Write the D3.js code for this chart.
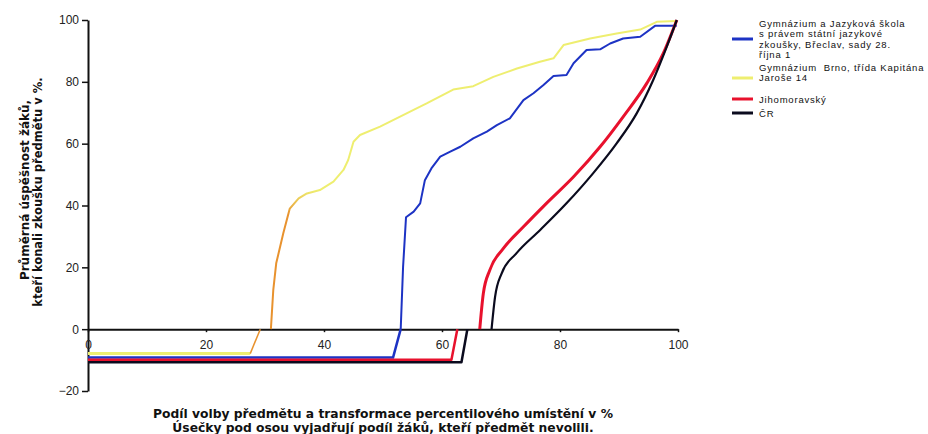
<!DOCTYPE html>
<html>
<head>
<meta charset="utf-8">
<script src="https://cdn.jsdelivr.net/npm/d3@7"></script>
<style>
  body { margin: 0; background: #fff; }
  svg { display: block; }
  .tick text { font-family: "Liberation Sans", Arial, sans-serif; font-size: 12px; fill: #222; }
</style>
</head>
<body>
<svg id="chart" width="928" height="434"></svg>
<script>
// data: [podíl volby / percentil, úspěšnost]
var xTicks = [0, 20, 40, 60, 80, 100],
    yTicks = [-20, 0, 20, 40, 60, 80, 100]

var brno = [[31.0,0],[31.4,12.6],[31.9,21.3],[33.1,31],[34.2,39],[35.7,42.3],[37.1,43.9],[39.3,45],
  [41.6,47.7],[43.3,51.5],[44.1,54.7],[45.0,60.6],[46.1,62.8],[49.5,65.5],[54.0,69.8],[57.4,73],
  [61.9,77.5],[65.3,78.6],[68.7,81.6],[72.7,84.3],[76.6,86.5],[78.9,87.6],[80.6,91.9],[85.1,94],
  [89.6,95.6],[93.6,96.9],[96.4,99.4],[99.8,99.7]]
var breclav = [[53.0,0],[53.4,20],[53.9,36.2],[55.2,38],[56.3,40.7],[57.1,48.2],[58.2,52],[59.7,55.8],
  [61.4,57.4],[63.1,59],[65.3,61.7],[67.6,63.9],[69.3,66],[71.5,68.2],[73.8,74.1],[75.5,76.3],
  [77.2,79],[78.9,81.9],[81.1,82.2],[82.3,86],[84.5,90.3],[86.8,90.5],[88.5,92.4],[90.7,94],
  [93.6,94.6],[96.1,98.1],[99.8,98.1]]
var jihomoravsky = [[66.4,0],[67.0,11.5],[68.1,19.1],[70.4,26.1],[73.8,33.1],[77.7,40.7],[82.3,49.3],
  [86.8,59],[90.7,68.7],[94.7,79.5],[97.5,89.2],[99.8,100]]
var cr = [[68.4,0],[69.0,10.5],[70.1,18],[72.6,24.5],[76.6,32],[81.1,40.7],[85.6,50.4],[89.6,60.1],
  [93.0,69.8],[95.8,80.6],[98.1,91.4],[99.8,100]]

// úsečky pod osou = podíl žáků, kteří předmět nevolili
var belowBrno = [[0,-7.9],[27.5,-7.9],[29.2,0]],
    belowBreclav = [[0,-9.2],[51.7,-9.2],[53.0,0]],
    belowJm = [[0,-9.9],[61.6,-9.9],[62.6,0]],
    belowCr = [[0,-10.7],[63.3,-10.7],[64.3,0]]

var legendNames = [
  ['Gymnázium a Jazyková škola', 's právem státní jazykové', 'zkoušky, Břeclav, sady 28.', 'října 1'],
  ['Gymnázium  Brno, třída Kapitána', 'Jaroše 14'],
  ['Jihomoravský'],
  ['ČR']
]

var cBlue = '#1d33c4', cYellow = '#eeee70', cOrange = '#e8922e', cRed = '#e8112d', cBlack = '#0b0b1e'

var svg = d3.select('#chart')
var x = d3.scaleLinear().domain([0, 100]).range([88, 678]),
    y = d3.scaleLinear().domain([-20, 100]).range([391, 20])

// gradient for the Brno line: orange low, yellow higher up
var grad = svg.append('defs').append('linearGradient')
    .attr('id', 'brnoGrad').attr('gradientUnits', 'userSpaceOnUse')
    .attr('x1', 0).attr('x2', 0).attr('y1', y(0)).attr('y2', y(60))
grad.append('stop').attr('offset', 0).attr('stop-color', cOrange)
grad.append('stop').attr('offset', 0.62).attr('stop-color', cOrange)
grad.append('stop').attr('offset', 0.75).attr('stop-color', cYellow)
grad.append('stop').attr('offset', 1).attr('stop-color', cYellow)

// axes
svg.append('g').attr('transform', 'translate(' + x(0) + ',0)')
    .call(d3.axisLeft(y).tickValues(yTicks).tickSize(6).tickSizeOuter(0).tickPadding(3))
svg.append('g').attr('transform', 'translate(0,' + y(0) + ')')
    .call(d3.axisBottom(x).tickValues(xTicks).tickSize(3).tickSizeOuter(0).tickPadding(8))
svg.selectAll('.domain').attr('stroke', '#111').attr('stroke-width', 2)
svg.selectAll('.tick line').attr('stroke', '#111').attr('stroke-width', 1.5)

var line = d3.line().x(d => x(d[0])).y(d => y(d[1]))
var smooth = d3.line().x(d => x(d[0])).y(d => y(d[1])).curve(d3.curveMonotoneX)

function path(data, gen, color, w){
  svg.append('path').datum(data).attr('d', gen)
    .attr('fill', 'none').attr('stroke', color).attr('stroke-width', w)
    .attr('stroke-linejoin', 'round')
}

// below axis
path(belowBrno.slice(0, 2), line, cYellow, 3)
path(belowBrno.slice(1), line, cOrange, 1.5)
path(belowBreclav, line, cBlue, 2.5)
path(belowJm, line, cRed, 2.5)
path(belowCr, line, cBlack, 2.5)

// above axis
path(brno, line, 'url(#brnoGrad)', 2)
path(breclav, line, cBlue, 2)
path(jihomoravsky, smooth, cRed, 3)
path(cr, smooth, cBlack, 2.2)

// legend
var legendColors = [cBlue, cYellow, cRed, cBlack],
    legendMarkY = [39, 78, 99, 113],
    legendTextY = [26.5, 70.5, 102.5, 116.5]
var lg = svg.append('g').attr('font-family', '"Liberation Sans", Arial, sans-serif')
    .attr('font-size', '9.5px').attr('letter-spacing', '0.8px').attr('fill', '#111')
legendNames.forEach(function(lines, i){
  lg.append('line').attr('x1', 732).attr('x2', 753)
    .attr('y1', legendMarkY[i]).attr('y2', legendMarkY[i])
    .attr('stroke', legendColors[i]).attr('stroke-width', 3)
  lines.forEach(function(t, j){
    lg.append('text').attr('x', 759).attr('y', legendTextY[i] + j * 10.5)
      .attr('xml:space', 'preserve').style('white-space', 'pre').text(t)
  })
})

// axis titles
var tf = '"DejaVu Sans", Verdana, sans-serif'
svg.append('text').attr('transform', 'translate(29,190) rotate(-90)')
  .attr('text-anchor', 'middle').attr('font-family', tf).attr('font-weight', 'bold')
  .attr('font-size', '12px').attr('fill', '#111').text('Průměrná úspěšnost žáků,')
svg.append('text').attr('transform', 'translate(42,192) rotate(-90)')
  .attr('text-anchor', 'middle').attr('font-family', tf).attr('font-weight', 'bold')
  .attr('font-size', '11.5px').attr('fill', '#111').text('kteří konali zkoušku předmětu v %.')

svg.append('text').attr('x', 383).attr('y', 418)
  .attr('text-anchor', 'middle').attr('font-family', tf).attr('font-weight', 'bold')
  .attr('font-size', '12.3px').attr('fill', '#111').text('Podíl volby předmětu a transformace percentilového umístění v %')
svg.append('text').attr('x', 383).attr('y', 432)
  .attr('text-anchor', 'middle').attr('font-family', tf).attr('font-weight', 'bold')
  .attr('font-size', '12.3px').attr('fill', '#111').text('Úsečky pod osou vyjadřují podíl žáků, kteří předmět nevolili.')
</script>
</body>
</html>
